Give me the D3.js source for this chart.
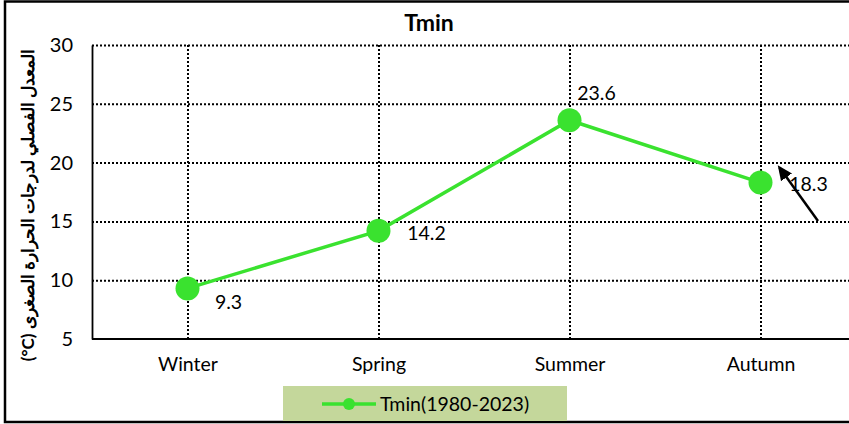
<!DOCTYPE html>
<html>
<head>
<meta charset="utf-8">
<script src="https://cdn.jsdelivr.net/npm/d3@7"></script>
<style>
  body { margin: 0; background: #fff; }
  text { font-family: Lato, "Open Sans", sans-serif; fill: #000; }
</style>
</head>
<body>
<div id="chart"></div>
<script>
// data
var seasons = ["Winter", "Spring", "Summer", "Autumn"];
var tmin = [9.3, 14.2, 23.6, 18.3];
var yTicks = [5, 10, 15, 20, 25, 30];
var seriesName = "Tmin(1980-2023)";

var w = 849, h = 424;
var plotLeft = 92, plotTop = 45, plotBottom = 339;
var green = "#3ae22f";

var svg = d3.select("#chart").append("svg")
    .attr("width", w)
    .attr("height", h);

// outer frame
svg.append("rect")
    .attr("x", 5).attr("y", 1.5)
    .attr("width", 900).attr("height", 420.5)
    .attr("fill", "none")
    .attr("stroke", "#000")
    .attr("stroke-width", 2.5);

var x = d3.scalePoint()
    .domain(seasons)
    .range([plotLeft, plotLeft + 191 * 4])
    .padding(0.5);

var y = d3.scaleLinear()
    .domain([5, 30])
    .range([plotBottom, plotTop]);

// horizontal gridlines
svg.selectAll(".hgrid")
    .data(yTicks.filter(function (d) { return d > 5; }))
    .enter().append("line")
    .attr("x1", plotLeft).attr("x2", w)
    .attr("y1", function (d) { return y(d) + 0.5; })
    .attr("y2", function (d) { return y(d) + 0.5; })
    .attr("stroke", "#000")
    .attr("stroke-width", 2)
    .attr("stroke-dasharray", "2,2");

// vertical gridlines at category positions
svg.selectAll(".vgrid")
    .data(seasons)
    .enter().append("line")
    .attr("x1", function (d) { return Math.round(x(d)); })
    .attr("x2", function (d) { return Math.round(x(d)); })
    .attr("y1", plotTop).attr("y2", plotBottom)
    .attr("stroke", "#000")
    .attr("stroke-width", 2)
    .attr("stroke-dasharray", "2,2");

// y axis
var yAxis = svg.append("g")
    .attr("transform", "translate(" + plotLeft + ",0)")
    .call(d3.axisLeft(y).tickValues(yTicks).tickSize(0).tickPadding(19));
yAxis.select(".domain").attr("stroke", "#000").attr("stroke-width", 1.8);
yAxis.selectAll("text").style("font-size", "20px");

// x axis
var xAxis = svg.append("g")
    .attr("transform", "translate(0," + plotBottom + ")")
    .call(d3.axisBottom(x).tickSize(0).tickPadding(18));
xAxis.select(".domain").remove();
xAxis.selectAll("text").style("font-size", "19.5px");
svg.append("line")
    .attr("x1", plotLeft).attr("x2", w)
    .attr("y1", plotBottom).attr("y2", plotBottom)
    .attr("stroke", "#000").attr("stroke-width", 1.8);

// title
svg.append("text")
    .attr("x", 429).attr("y", 31)
    .attr("text-anchor", "middle")
    .style("font-size", "23px")
    .style("font-weight", "bold")
    .text("Tmin");

// y axis title (Arabic)
svg.append("text")
    .attr("transform", "translate(34,205) rotate(-90)")
    .attr("text-anchor", "middle")
    .attr("direction", "rtl")
    .style("font-size", "17px")
    .style("font-weight", "bold")
    .text("المعدل الفصلي لدرجات الحرارة الصغرى (\u2066°C\u2069)");

// line + markers
var line = d3.line()
    .x(function (d, i) { return x(seasons[i]); })
    .y(function (d) { return y(d); });

svg.append("path")
    .datum(tmin)
    .attr("d", line)
    .attr("fill", "none")
    .attr("stroke", green)
    .attr("stroke-width", 3.5);

svg.selectAll(".dot")
    .data(tmin)
    .enter().append("circle")
    .attr("cx", function (d, i) { return x(seasons[i]); })
    .attr("cy", function (d) { return y(d); })
    .attr("r", 12)
    .attr("fill", green);

// value labels
var labelOffsets = [[41, 21], [48, 9], [27, -20], [48, 8]];
svg.selectAll(".lbl")
    .data(tmin)
    .enter().append("text")
    .attr("x", function (d, i) { return x(seasons[i]) + labelOffsets[i][0]; })
    .attr("y", function (d, i) { return y(d) + labelOffsets[i][1]; })
    .attr("text-anchor", "middle")
    .style("font-size", "19.5px")
    .text(function (d) { return d.toFixed(1); });

// arrow pointing at autumn value
svg.append("defs").append("marker")
    .attr("id", "head")
    .attr("viewBox", "0 0 10 10")
    .attr("refX", 8).attr("refY", 5)
    .attr("markerWidth", 6).attr("markerHeight", 6)
    .attr("orient", "auto")
    .append("path")
    .attr("d", "M0,0.5 L10,5 L0,9.5 z")
    .attr("fill", "#000");

svg.append("line")
    .attr("x1", 818).attr("y1", 221)
    .attr("x2", x("Autumn") + 19).attr("y2", y(18.3) - 15)
    .attr("stroke", "#000")
    .attr("stroke-width", 2.5)
    .attr("marker-end", "url(#head)");

// legend
var leg = svg.append("g").attr("transform", "translate(283,386)");
leg.append("rect")
    .attr("width", 284).attr("height", 35)
    .attr("fill", "#c4d79b");
leg.append("line")
    .attr("x1", 39).attr("x2", 93)
    .attr("y1", 18).attr("y2", 18)
    .attr("stroke", green).attr("stroke-width", 3.5);
leg.append("circle")
    .attr("cx", 66).attr("cy", 18).attr("r", 6)
    .attr("fill", green);
leg.append("text")
    .attr("x", 97).attr("y", 25)
    .style("font-size", "19.5px")
    .text(seriesName);
</script>
</body>
</html>
